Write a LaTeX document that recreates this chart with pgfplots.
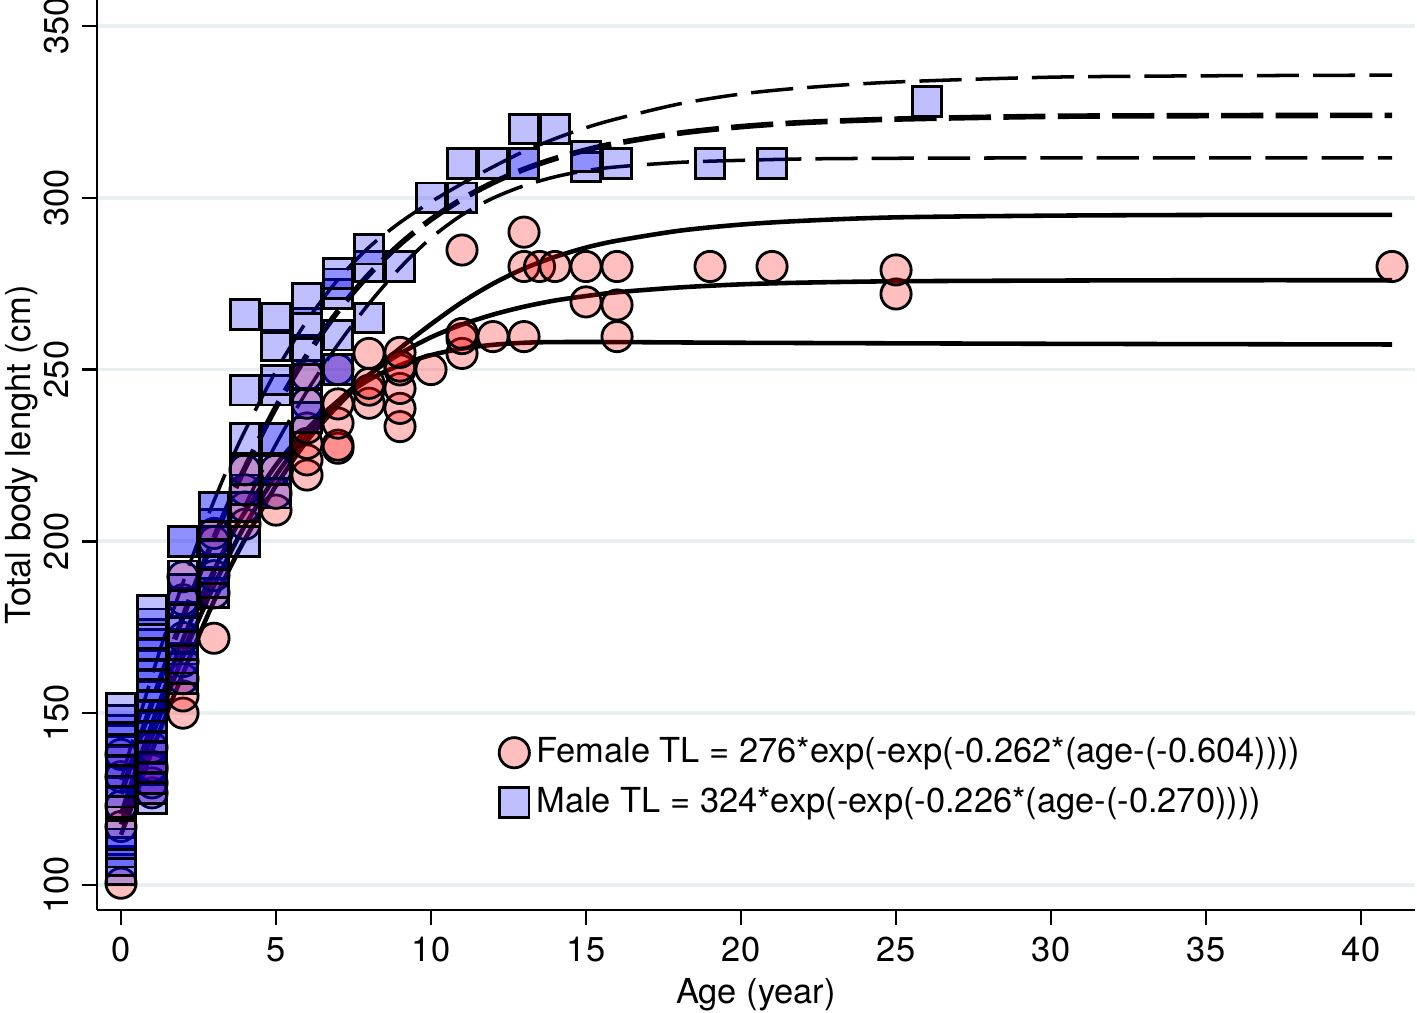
\documentclass[border=0pt]{standalone}
\usepackage{fontspec}
\setmainfont{TeX Gyre Heros}
\usepackage{pgfplots}
\pgfplotsset{compat=1.18}
\definecolor{gridc}{RGB}{232,240,242}
\pgfplotstableread{
x y
0 100.5
0 117
0 123
0 131.5
0 138
1 126.8
1 129.7
1 133.5
1 134.5
1 140
2 150
2 155
2 160
2 165
2 172
2 183
2 189.7
3 171.8
3 185
3 190
3 200
3 202.3
4 205
4 210
4 215
4 220.8
5 209.1
5 214
5 220.8
6 219.3
6 223.7
6 228.5
6 233
6 240.2
6 248.4
7 227.1
7 228
7 234.4
7 240
7 250
8 240.2
8 244
8 246
8 254.7
9 233.4
9 238.7
9 244.5
9 249.9
9 251
9 255
10 250
11 254.7
11 259
11 260.5
11 284.8
12 259.6
13 259.6
13 280
13 290
13.5 280
14 280
15 269.7
15 280
16 259.6
16 268.8
16 280
19 280
21 280
25 272
25 279
41 280
}\female
\pgfplotstableread{
x y
0 104.5
0 107
0 109.5
0 112
0 114.5
0 124
0 127
0 130
0 133
0 136
0 139
0 142
0 145
0 148
0 151.5
1 125
1 128
1 131
1 134
1 137
1 140
1 143
1 146
1 149
1 152
1 155
1 158
1 161
1 164
1 167
1 170
1 173
1 176
1 180
2 160
2 163
2 166
2 170
2 174
2 178
2 182
2 186
2 190
2 200
2 200
3 185
3 188
3 192
3 196
3 200
3 205
3 210
3 210
4 200
4 210
4 215
4 220.8
4 230
4 244
4 266
5 214
5 220.8
5 230
5 230
5 244
5 247
5 257
5 265
6 236
6 240.2
6 248.4
6 255.7
6 263.4
6 270.7
7 250
7 250
7 260
7 272
7 275
7 278
8 265
8 280
8 285
9 280
10 300
11 300
11 310
12 310
13 310
13 310
13 320
14 320
15 309
15 312
16 310
19 310
21 310
26 328
}\male
\begin{document}
\begin{tikzpicture}
\useasboundingbox (-0.97cm,-1.03cm) rectangle (13.20cm,9.10cm);
\begin{axis}[
  scale only axis, width=13.18cm, height=9.10cm,
  xmin=-0.774, xmax=41.74, ymin=92.7, ymax=357.57,
  axis x line*=bottom, axis y line*=left,
  axis line style={-, line width=0.7pt, black},
  xtick={0,5,...,40}, ytick={100,150,...,350},
  tick align=outside, major tick length=4.3pt,
  tick style={line width=0.7pt, black},
  ymajorgrids, grid style={line width=1.1pt, gridc},
  font=\fontsize{9.8}{11.5}\selectfont,
  ticklabel style={font=\fontsize{9.8}{11.5}\selectfont},
  yticklabel style={rotate=90, anchor=south},
  /pgf/number format/assume math mode=true,
  xlabel={Age (year)}, ylabel={Total body lenght (cm)},
  xlabel style={font=\fontsize{9.8}{11.5}\selectfont},
  ylabel style={font=\fontsize{9.8}{11.5}\selectfont},
  xlabel shift=-2.3pt, ylabel shift=-5pt,
  legend style={at={(0.3046,0.198)}, anchor=north west, draw=none, fill=none,
    font=\fontsize{9.8}{11.5}\selectfont, row sep=1.5pt, inner sep=0pt},
  legend cell align=left,
  legend image code/.code={\draw[mark repeat=2,mark phase=2,#1] plot coordinates {(0cm,0cm) (0.15cm,0cm) (0.3cm,0cm)};},
  clip=false,
]
\addplot[only marks, mark=*, mark size=4.3pt,
  mark options={solid, fill=red, fill opacity=0.25, draw=black, line width=0.8pt}]
  table[x=x,y=y]{\female};
\addlegendentry{Female TL = 276*exp(-exp(-0.262*(age-(-0.604))))}
\addplot[only marks, mark=square*, mark size=4.2pt,
  mark options={solid, fill=blue, fill opacity=0.25, draw=black, line width=0.8pt}]
  table[x=x,y=y]{\male};
\addlegendentry{Male TL = 324*exp(-exp(-0.226*(age-(-0.270))))}
% female curves
\addplot[forget plot, smooth, no marks, black, line width=1.3pt] coordinates {
(0,117.6) (0.5,130.5) (1,143.1) (1.5,155.1) (2,166.5) (2.5,177.1) (3,187.1) (3.5,196.2) (4,204.6) (5,219.2) (6,231.2) (7,240.8) (8,248.5) (9,254.6) (10,259.4) (11,263.1) (12,266.0) (13,268.3) (14,270.1) (15,271.4) (16,272.5) (18,273.9) (20,274.8) (22,275.3) (25,275.7) (30,275.9) (35,276.0) (41,276.0)};
\addplot[forget plot, smooth, no marks, black, line width=1.3pt] coordinates {
(0,114.6) (0.5,126.5) (1,139) (1.5,150.5) (2,161.5) (2.5,172.3) (3,182.6) (3.5,192) (4,200.6) (5,216.2) (6,229.2) (7,239.5) (8,248.3) (9,256.2) (10,263.2) (11,269.6) (12,275) (13,279.4) (14,282.8) (15,285.5) (16,287.5) (18,290.4) (20,292.2) (22,293.3) (25,294.3) (30,294.8) (35,295) (41,295)};
\addplot[forget plot, smooth, no marks, black, line width=1.3pt] coordinates {
(0,120.6) (0.5,134) (1,147) (1.5,159.5) (2,171.5) (2.5,182) (3,191.6) (3.5,200.5) (4,208.6) (5,222.2) (6,232.7) (7,240.8) (8,247) (9,251.3) (10,254.2) (11,256.1) (12,257.2) (13,257.8) (14,258) (16,258) (20,257.8) (30,257.5) (41,257.3)};
% male curves
\addplot[forget plot, smooth, no marks, black, line width=1.6pt, dash pattern=on 12pt off 3.5pt] coordinates {
(0,126.5) (0.5,139.8) (1,153.0) (1.5,165.8) (2,178.0) (2.5,189.8) (3,201.0) (3.5,211.5) (4,221.4) (5,239.1) (6,254.2) (7,267.0) (8,277.7) (9,286.5) (10,293.7) (11,299.6) (12,304.4) (13,308.3) (14,311.4) (15,313.9) (16,315.9) (18,318.8) (20,320.7) (22,321.9) (25,322.9) (30,323.7) (35,323.9) (41,324.0)};
\addplot[forget plot, smooth, no marks, black, line width=1pt, dash pattern=on 12pt off 4pt] coordinates {
(0,130.5) (0.5,145.8) (1,161) (1.5,175) (2,188) (2.5,200.3) (3,211.8) (3.5,222.5) (4,232.2) (5,249.6) (6,264.2) (7,276.2) (8,285.6) (9,292.8) (10,298.8) (11,304.1) (12,309) (13,313.5) (14,317.2) (15,320.4) (16,323) (18,327.3) (20,330.2) (22,332) (25,333.7) (30,335.1) (35,335.5) (41,335.7)};
\addplot[forget plot, smooth, no marks, black, line width=1pt, dash pattern=on 12pt off 4pt] coordinates {
(0,118.5) (0.5,131) (1,144) (1.5,156.3) (2,168) (2.5,179.3) (3,190.3) (3.5,200.5) (4,210.4) (5,228.3) (6,243.7) (7,257.3) (8,269.2) (9,279.6) (10,288.3) (11,295) (12,299.9) (13,303.5) (14,306.1) (15,307.9) (16,309) (18,310.3) (20,310.9) (22,311.3) (25,311.5) (30,311.6) (41,311.6)};
\end{axis}
\end{tikzpicture}
\end{document}
